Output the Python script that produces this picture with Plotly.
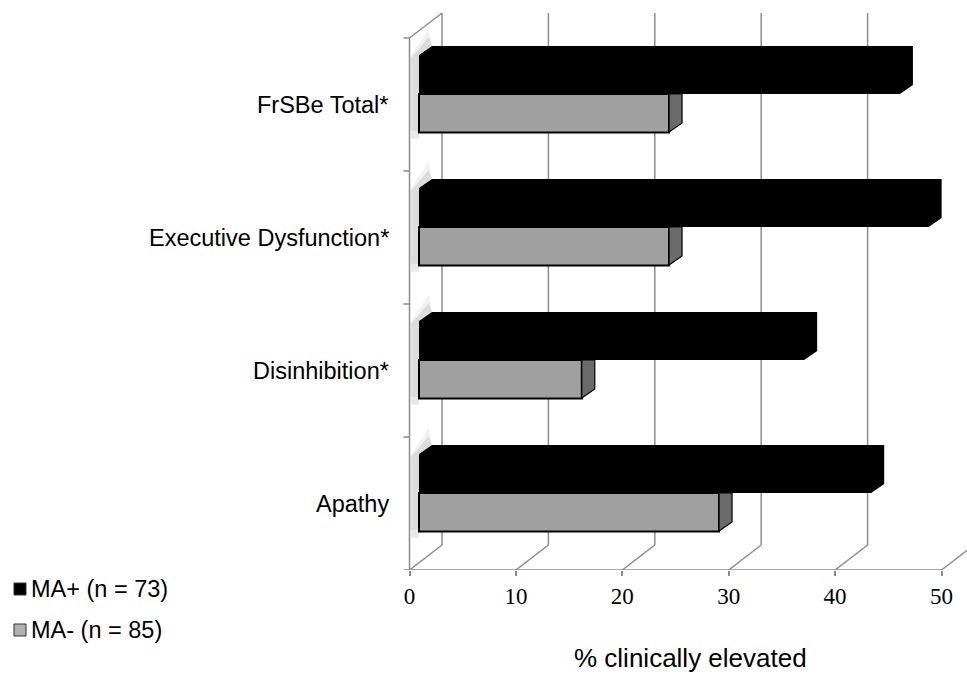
import plotly.graph_objects as go

# ---------------- data ----------------
categories = ["FrSBe Total*", "Executive Dysfunction*", "Disinhibition*", "Apathy"]
ma_plus = [45.2, 47.9, 36.2, 42.5]
ma_minus = [23.5, 23.5, 15.3, 28.2]
x_ticks = [0, 10, 20, 30, 40, 50]
series_names = ["MA+ (n = 73)", "MA- (n = 85)"]
axis_title = "% clinically elevated"

# ---------------- geometry (pixels -> data units) ----------------
W, H = 967, 675
PLOT_BOTTOM = 570.0
KX = 10.64          # px per percent
KY = 133.0          # px per category band
X0PX = 409.5        # pixel of x = 0 on the front plane

xr = [-X0PX / KX, (W - X0PX) / KX]
yr = [-0.5, -0.5 + PLOT_BOTTOM / KY]

WX, WY = 32.5 / KX, 25.0 / KY      # wall depth offset
BX = 9.5 / KX                      # bar front face offset from the wall
TDX, TDY = 13.0 / KX, 9.0 / KY     # bar depth
BW = 0.29                          # bar thickness
B_TOP, B_MID, B_BOT = 0.372, 0.079, -0.207

n = len(categories)
pos = [n - 1 - i for i in range(n)]

BLACK = "#000000"
GRAY = "#a0a0a0"
GRAY_SIDE = "#6b6b6b"
GRID = "#8c8c8c"
SANS = "Liberation Sans, Arial, sans-serif"
SERIF = "Liberation Serif, Times New Roman, serif"

fig = go.Figure()

# front faces of the bars
fig.add_trace(go.Bar(
    orientation="h", y=[p + B_MID + BW / 2 for p in pos], x=ma_plus,
    base=[BX] * n, width=BW, marker=dict(color=BLACK, line=dict(width=0)),
    name=series_names[0], showlegend=False, hoverinfo="x"))
fig.add_trace(go.Bar(
    orientation="h", y=[p + B_MID - BW / 2 for p in pos], x=ma_minus,
    base=[BX] * n, width=BW, marker=dict(color=GRAY, line=dict(color=BLACK, width=2)),
    name=series_names[1], showlegend=False, hoverinfo="x"))

# 3-D top/side of black bars
hx, hy = [], []
for p, v in zip(pos, ma_plus):
    x0, x1 = BX, BX + v
    yb, yt = p + B_MID, p + B_TOP
    hx += [x0, x0, x0 + TDX, x1 + TDX, x1 + TDX, x1, x0, None]
    hy += [yb, yt, yt + TDY, yt + TDY, yb + TDY, yb, yb, None]
fig.add_trace(go.Scatter(x=hx, y=hy, mode="lines", fill="toself", fillcolor=BLACK,
                         line=dict(width=0, color=BLACK), showlegend=False, hoverinfo="skip"))

# visible side of gray bars
sx, sy = [], []
for p, v in zip(pos, ma_minus):
    x1 = BX + v
    yb, yt = p + B_BOT, p + B_MID
    sx += [x1, x1 + TDX, x1 + TDX, x1, x1, None]
    sy += [yt, yt, yb + TDY, yb, yt, None]
fig.add_trace(go.Scatter(x=sx, y=sy, mode="lines", fill="toself", fillcolor=GRAY_SIDE,
                         line=dict(width=1.2, color=BLACK), showlegend=False, hoverinfo="skip"))

shapes = []
def line(x0, y0, x1, y1, color=GRID, width=1.5):
    shapes.append(dict(type="line", xref="x", yref="y", x0=x0, y0=y0, x1=x1, y1=y1,
                       line=dict(color=color, width=width), layer="below"))

# wall shadows (soft)
for p in pos:
    for k, (op, grow) in enumerate([(0.08, 0.06), (0.14, 0.0)]):
        xa = 0.15 - grow * 3
        path = (f"M{xa},{p + B_BOT - 0.05 + grow} L{xa},{p + B_TOP - 0.02} "
                f"L{BX + TDX - 0.3},{p + B_TOP + TDY + 0.07 + grow} "
                f"L{BX + TDX},{p + B_TOP + TDY} L{BX},{p + B_TOP} L{BX},{p + B_BOT - 0.05 + grow} Z")
        shapes.append(dict(type="path", xref="x", yref="y", path=path,
                           fillcolor=f"rgba(90,90,90,{op})", line=dict(width=0), layer="below"))

# floor, back wall gridlines
y_floor = -0.5
y_top = n - 0.5
for t in x_ticks:
    line(t, y_floor, t + WX, y_floor + WY)
    line(t + WX, y_floor + WY, t + WX, y_top + WY)
line(x_ticks[0], y_floor, x_ticks[-1], y_floor)
# left wall
line(0, y_floor, 0, y_top)
line(0, y_top, WX, y_top + WY)
for k in range(n + 1):
    line(-6 / KX, k - 0.5, 0, k - 0.5)

# category labels
ann = []
for p, c in zip(pos, categories):
    ann.append(dict(x=(391 - X0PX) / KX, y=p, xref="x", yref="y", text=c, showarrow=False,
                    xanchor="right", yanchor="middle", font=dict(family=SANS, size=23.5, color="#000")))

# axis title
ann.append(dict(x=690 / W, y=(PLOT_BOTTOM - 658) / PLOT_BOTTOM, xref="paper", yref="paper",
                text=axis_title, showarrow=False, xanchor="center", yanchor="middle",
                font=dict(family=SANS, size=26, color="#000")))

# legend (manual)
leg_y = [589, 630]
leg_col = [BLACK, "#b0b0b0"]
for ly, col, name in zip(leg_y, leg_col, series_names):
    shapes.append(dict(type="rect", xref="paper", yref="paper",
                       x0=14 / W, x1=26 / W,
                       y0=(PLOT_BOTTOM - (ly + 6)) / PLOT_BOTTOM, y1=(PLOT_BOTTOM - (ly - 6)) / PLOT_BOTTOM,
                       fillcolor=col, line=dict(color="#333", width=1)))
    ann.append(dict(x=29 / W, y=(PLOT_BOTTOM - ly) / PLOT_BOTTOM, xref="paper", yref="paper",
                    text=name, showarrow=False, xanchor="left", yanchor="middle",
                    font=dict(family=SANS, size=23.5, color="#000")))

fig.update_layout(
    width=W, height=H, barmode="overlay",
    margin=dict(l=0, r=0, t=0, b=H - PLOT_BOTTOM, pad=0),
    paper_bgcolor="white", plot_bgcolor="white",
    shapes=shapes, annotations=ann, showlegend=False,
    xaxis=dict(range=xr, tickvals=x_ticks, ticktext=[str(t) for t in x_ticks],
               showgrid=False, zeroline=False, showline=False,
               ticks="outside", ticklen=5, tickcolor=GRID, tickwidth=1.5,
               tickfont=dict(family=SERIF, size=23, color="#000"), fixedrange=True),
    yaxis=dict(range=yr, showgrid=False, zeroline=False, showline=False,
               showticklabels=False, ticks="", fixedrange=True),
)

fig.write_html("out.html", config={"displayModeBar": False},
               post_script="document.body.style.margin='0';document.body.style.overflow='hidden';")
